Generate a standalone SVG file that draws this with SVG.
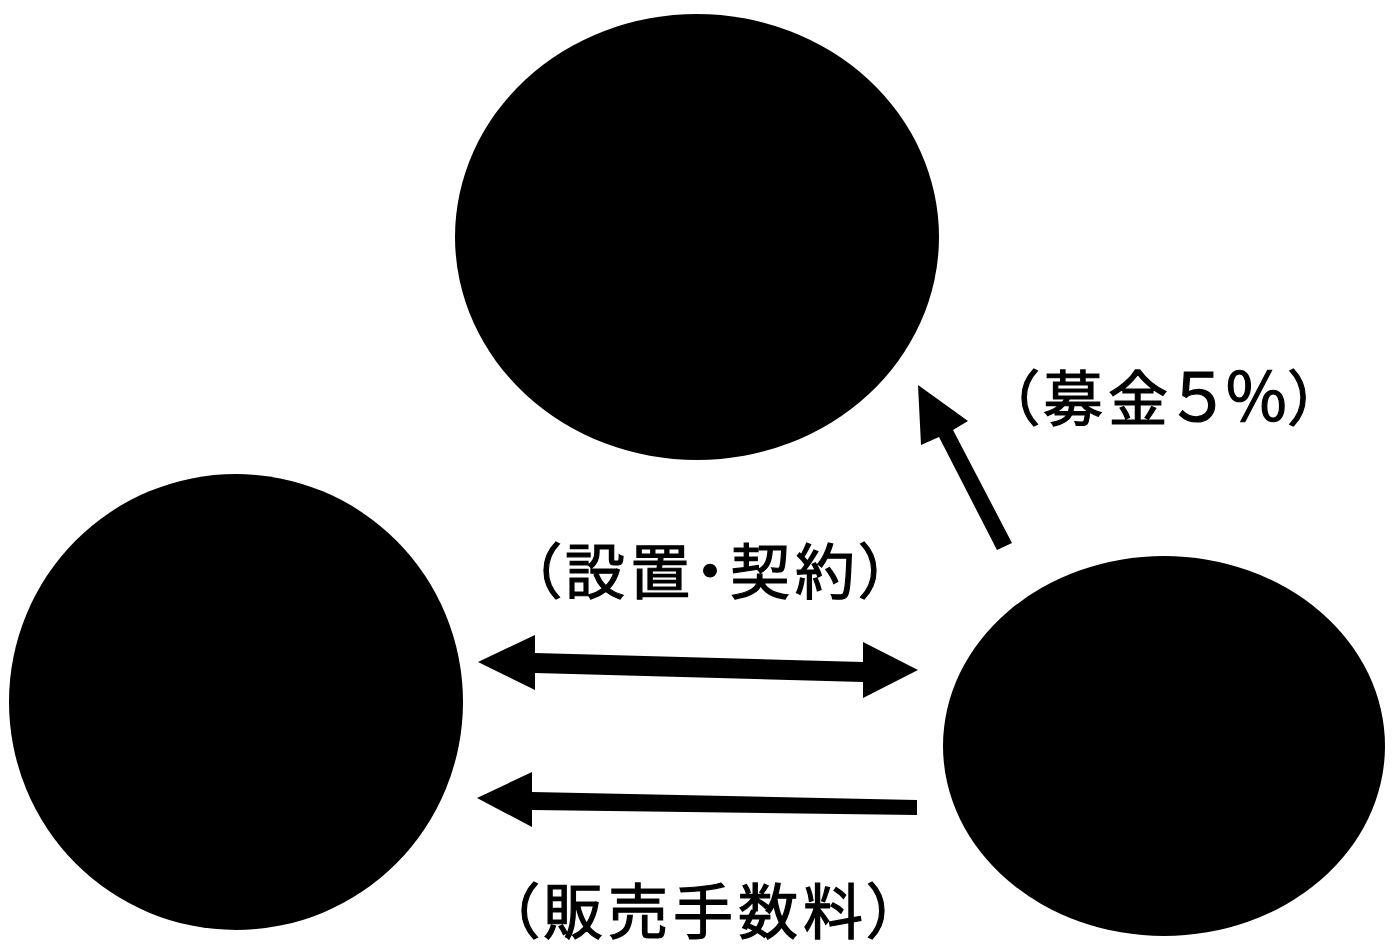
<svg xmlns="http://www.w3.org/2000/svg" width="1392" height="949" viewBox="0 0 1392 949">
<style>
.node{fill:#000}
.arrow{fill:#000}
.lbl{font-family:"Noto Sans CJK JP","Noto Sans CJK SC",sans-serif;font-size:60px;fill:#000;stroke:#000;stroke-width:1.2px;font-feature-settings:"palt";letter-spacing:5px}
</style>
<rect width="1392" height="949" fill="#fff"/>
<g id="node-top"><ellipse class="node" cx="697" cy="237" rx="242" ry="223"/></g>
<g id="node-left"><ellipse class="node" cx="236" cy="702" rx="227" ry="228"/></g>
<g id="node-right"><ellipse class="node" cx="1164" cy="746" rx="221" ry="190"/></g>
<g id="connectors">
<polygon class="arrow" points="918,385 968,421 953,430 1012,543 997,550 939,437 921,445"/>
<polygon class="arrow" points="478,662 535,635 535,653 863,662 863,642 918,670 863,698 863,682 535,673 535,690"/>
<polygon class="arrow" points="477,798 532,772 532,792 917,800 917,815 532,810 532,827"/>
</g>
<g id="labels">
<text class="lbl" x="530" y="594">（設置・契約）</text>
<text class="lbl" x="508" y="934">（販売手数料）</text>
<text class="lbl" x="1008" y="421">（募金<tspan font-size="66" letter-spacing="0">５％</tspan>）</text>
</g>
</svg>
